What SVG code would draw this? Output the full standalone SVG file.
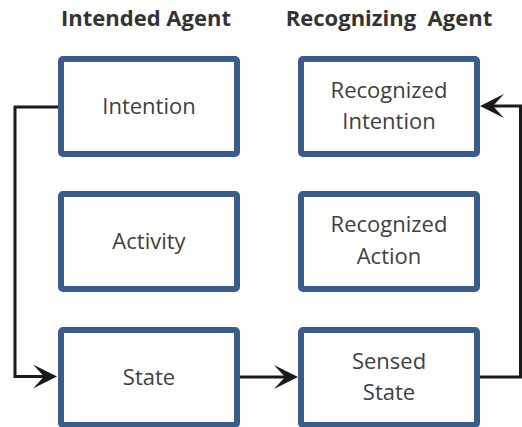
<svg xmlns="http://www.w3.org/2000/svg" width="522" height="427" viewBox="0 0 522 427">
<style>
.box{fill:#fff;stroke:#385D8A;stroke-width:6}
.lbl{font-family:"Open Sans","Noto Sans",sans-serif;font-size:22px;fill:#404040;text-anchor:middle}
.hdr{font-family:"Open Sans","Noto Sans",sans-serif;font-size:22px;font-weight:bold;fill:#333;text-anchor:middle}
.conn{fill:none;stroke:#1a1a1a;stroke-width:3}
</style>
<defs>
<marker id="arr" viewBox="-26 -14 28 28" markerWidth="28" markerHeight="28" refX="-10" refY="0" orient="auto" markerUnits="userSpaceOnUse">
<path d="M0,0 L-24,-12 L-13,0 L-24,12 Z" fill="#1a1a1a"/>
</marker>
</defs>
<rect width="522" height="427" fill="#fff"/>
<text class="hdr" x="146" y="26">Intended Agent</text>
<text class="hdr" x="389" y="26" xml:space="preserve">Recognizing  Agent</text>
<g id="connectors">
<path class="conn" d="M58,107 H15 V376.5 H47" marker-end="url(#arr)"/>
<path class="conn" d="M240,377 H288" marker-end="url(#arr)"/>
<path class="conn" d="M480,377 H520.5 V106 H490" marker-end="url(#arr)"/>
</g>
<g id="intention"><rect class="box" x="61" y="59" width="176" height="95" rx="2"/><text class="lbl" x="149" y="114">Intention</text></g>
<g id="activity"><rect class="box" x="61" y="194" width="176" height="95" rx="2"/><text class="lbl" x="149" y="249">Activity</text></g>
<g id="state"><rect class="box" x="61" y="330" width="176" height="95" rx="2"/><text class="lbl" x="149" y="385">State</text></g>
<g id="recognized-intention"><rect class="box" x="301" y="59" width="176" height="95" rx="2"/><text class="lbl" x="389" y="98">Recognized</text><text class="lbl" x="389" y="129">Intention</text></g>
<g id="recognized-action"><rect class="box" x="301" y="194" width="176" height="95" rx="2"/><text class="lbl" x="389" y="232">Recognized</text><text class="lbl" x="389" y="264">Action</text></g>
<g id="sensed-state"><rect class="box" x="301" y="330" width="176" height="95" rx="2"/><text class="lbl" x="389" y="369">Sensed</text><text class="lbl" x="389" y="400">State</text></g>
</svg>
